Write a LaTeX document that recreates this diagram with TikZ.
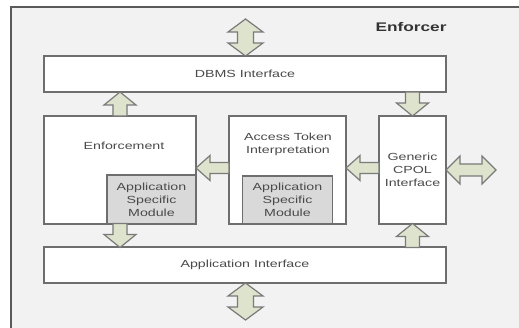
\documentclass[tikz,border=0pt]{standalone}
\usepackage{fontspec}
\newfontfamily\lblfont[FakeStretch=1.38]{Liberation Sans}
\usetikzlibrary{calc}
\definecolor{bg}{HTML}{F2F2F2}
\definecolor{frameline}{HTML}{5A5A5A}
\definecolor{boxline}{HTML}{6E6E6E}
\definecolor{modfill}{HTML}{D9D9D9}
\definecolor{arrfill}{RGB}{221,227,205}
\definecolor{arrline}{HTML}{7A7A7A}
\definecolor{txt}{HTML}{4A4A4A}
\tikzset{
  box/.style={draw=boxline,line width=1.5pt,fill=white,inner sep=0pt,outer sep=0pt},
  module/.style={box,fill=modfill},
  lbl/.style={text=txt,font=\lblfont\fontsize{10.3}{13}\selectfont,align=center,inner sep=0pt},
  blk/.style={draw=arrline,line width=1.2pt,fill=arrfill,line join=miter},
  blkup/.pic={\path[blk] (0,-12) -- (16,1) -- (7,1) -- (7,12) -- (-7,12) -- (-7,1) -- (-16,1) -- cycle;},
  blkdown/.pic={\path[blk] (0,12) -- (16,-1) -- (7,-1) -- (7,-12) -- (-7,-12) -- (-7,-1) -- (-16,-1) -- cycle;},
  blkleft/.pic={\path[blk] (-16.5,0) -- (-2.5,-12.5) -- (-2.5,-5.5) -- (16.5,-5.5) -- (16.5,5.5) -- (-2.5,5.5) -- (-2.5,12.5) -- cycle;},
  blkvdouble/.pic={\path[blk] (0,-18.5) -- (17.5,-5.5) -- (8,-5.5) -- (8,5.5) -- (17.5,5.5) -- (0,18.5) -- (-17.5,5.5) -- (-8,5.5) -- (-8,-5.5) -- (-17.5,-5.5) -- cycle;},
  blkhdouble/.pic={\path[blk] (-25,0) -- (-11,-14) -- (-11,-6) -- (11,-6) -- (11,-14) -- (25,0) -- (11,14) -- (11,6) -- (-11,6) -- (-11,14) -- cycle;},
}
\begin{document}
\begin{tikzpicture}[x=1pt,y=-1pt]
\useasboundingbox (0,0) rectangle (519,328);
\clip (0,0) rectangle (519,328);
\fill[white] (0,0) rectangle (519,328);
\draw[fill=bg,draw=frameline,line width=1.2pt] (11,7) rectangle (560,360);

% boxes
\node[box,minimum width=402pt,minimum height=36pt] (dbms) at (245,74) {};
\node[box,minimum width=152pt,minimum height=108pt] (enf) at (120,170) {};
\node[module,minimum width=89pt,minimum height=49pt,anchor=south east] (asm1) at (enf.south east) {};
\node[box,minimum width=117pt,minimum height=108pt] (atk) at (287.5,170) {};
\node[module,minimum width=90pt,minimum height=48pt,anchor=south] (asm2) at (atk.south) {};
\node[box,minimum width=67pt,minimum height=108pt] (cpol) at (412.5,170) {};
\node[box,minimum width=402pt,minimum height=36pt] (app) at (245,265) {};

% labels
\node[text=black!80,font=\lblfont\bfseries\fontsize{12.5}{15}\selectfont,inner sep=0pt] (title) at (411,27.5) {Enforcer};
\node[lbl] (tdbms) at (dbms.center) {DBMS Interface};
\node[lbl] (tenf) at (124,146) {Enforcement};
\node[lbl] (tasm1) at (asm1.center) {Application\\Specific\\Module};
\node[lbl,text depth=0pt] (tatk) at (288,143) {Access Token\\Interpretation};
\node[lbl] (tasm2) at (asm2.center) {Application\\Specific\\Module};
\node[lbl] (tcpol) at (cpol.center) {Generic\\CPOL\\Interface};
\node[lbl] (tapp) at (app.center) {Application Interface};

% block arrows
\pic at ($(dbms.north)+(0.5,-18.5)$) {blkvdouble};
\pic at ($(app.south)+(0.5,18.5)$) {blkvdouble};
\pic at ($(enf.north)!0.5!(enf.north|-dbms.south)$) {blkup};
\pic at ($(enf.south)!0.5!(enf.south|-app.north)$) {blkdown};
\pic at ($(cpol.north)!0.5!(cpol.north|-dbms.south)$) {blkdown};
\pic at ($(cpol.south)!0.5!(cpol.south|-app.north)$) {blkup};
\pic at ($(enf.east|-0,168)!0.5!(atk.west|-0,168)$) {blkleft};
\pic at ($(atk.east|-0,168)!0.5!(cpol.west|-0,168)$) {blkleft};
\pic at ($(cpol.east)+(25,0)$) {blkhdouble};
\end{tikzpicture}
\end{document}
